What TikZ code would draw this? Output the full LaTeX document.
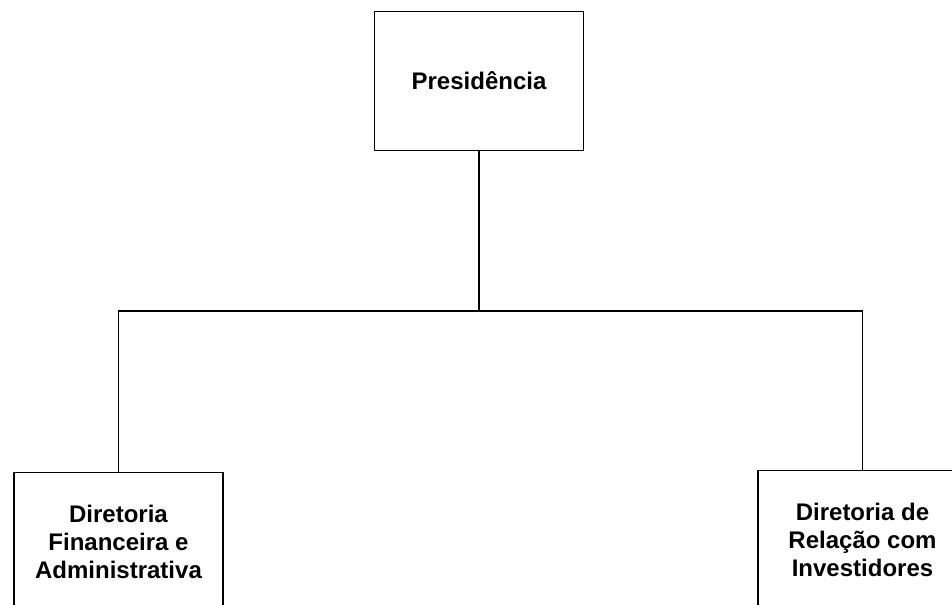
\documentclass[tikz,border=0pt]{standalone}
\usepackage{fontspec}
\setmainfont{Liberation Sans}
\usetikzlibrary{positioning, calc}

\begin{document}
\begin{tikzpicture}[
    x=0.75pt, y=-0.75pt,
    unit/.style={rectangle, draw, line width=0.8pt, minimum width=156.75pt, minimum height=104.5pt, align=center, font=\fontsize{18}{21}\selectfont\bfseries, inner sep=0pt},
    link/.style={line width=0.8pt},
]
\useasboundingbox (0,0) rectangle (952,604);
\clip (0,0) rectangle (952,604);

% Top
\node[unit] (pres) at (479,81) {Presidência};

% Directorates
\node[unit] (fin) at (118.5,542) {Diretoria\\Financeira e\\Administrativa};
\node[unit] (ri) at (862.5,540) {Diretoria de\\Relação com\\Investidores};

% Connectors
\coordinate (junc) at (479,311);
\draw[link] (pres.south) -- (junc);
\draw[link] (junc) -| (fin.north);
\draw[link] (junc) -| (ri.north);

\end{tikzpicture}
\end{document}
